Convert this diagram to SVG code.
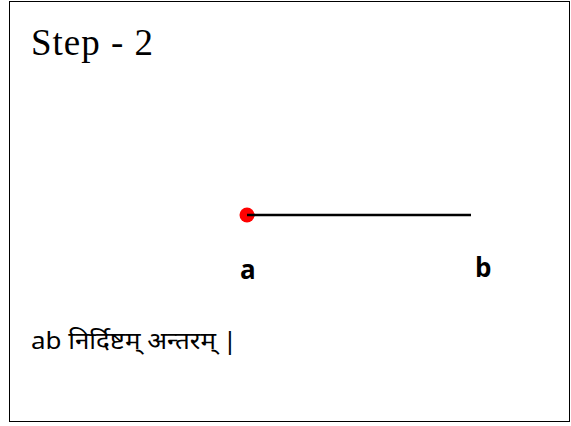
<svg xmlns="http://www.w3.org/2000/svg" width="571" height="426" viewBox="0 0 571 426">
<style>
.lbl{font-family:"Open Sans","Noto Sans","Liberation Sans",sans-serif;font-weight:bold;font-size:26px;fill:#000}
.body{font-family:"Noto Sans","Noto Sans Devanagari","Liberation Sans",sans-serif;font-size:24px;fill:#000}
</style>
<rect x="9.5" y="1.5" width="560" height="420" fill="#fff" stroke="#000" stroke-width="1"/>
<text x="31" y="55" font-family="'Liberation Serif',serif" font-size="37" fill="#000" textLength="122" lengthAdjust="spacing">Step - 2</text>
<g id="connectors">
<line x1="247" y1="215" x2="471" y2="215" stroke="#000" stroke-width="2.5"/>
</g>
<g id="node-a">
<circle cx="247" cy="215" r="7.5" fill="#f00"/>
<line x1="247" y1="215" x2="255" y2="215" stroke="#000" stroke-width="2.5"/>
<text class="lbl" x="240" y="279">a</text>
</g>
<g id="node-b">
<text class="lbl" x="475" y="277">b</text>
</g>
<text class="body" x="31" y="349" textLength="206" lengthAdjust="spacingAndGlyphs">ab निर्दिष्टम् अन्तरम् |</text>
</svg>
